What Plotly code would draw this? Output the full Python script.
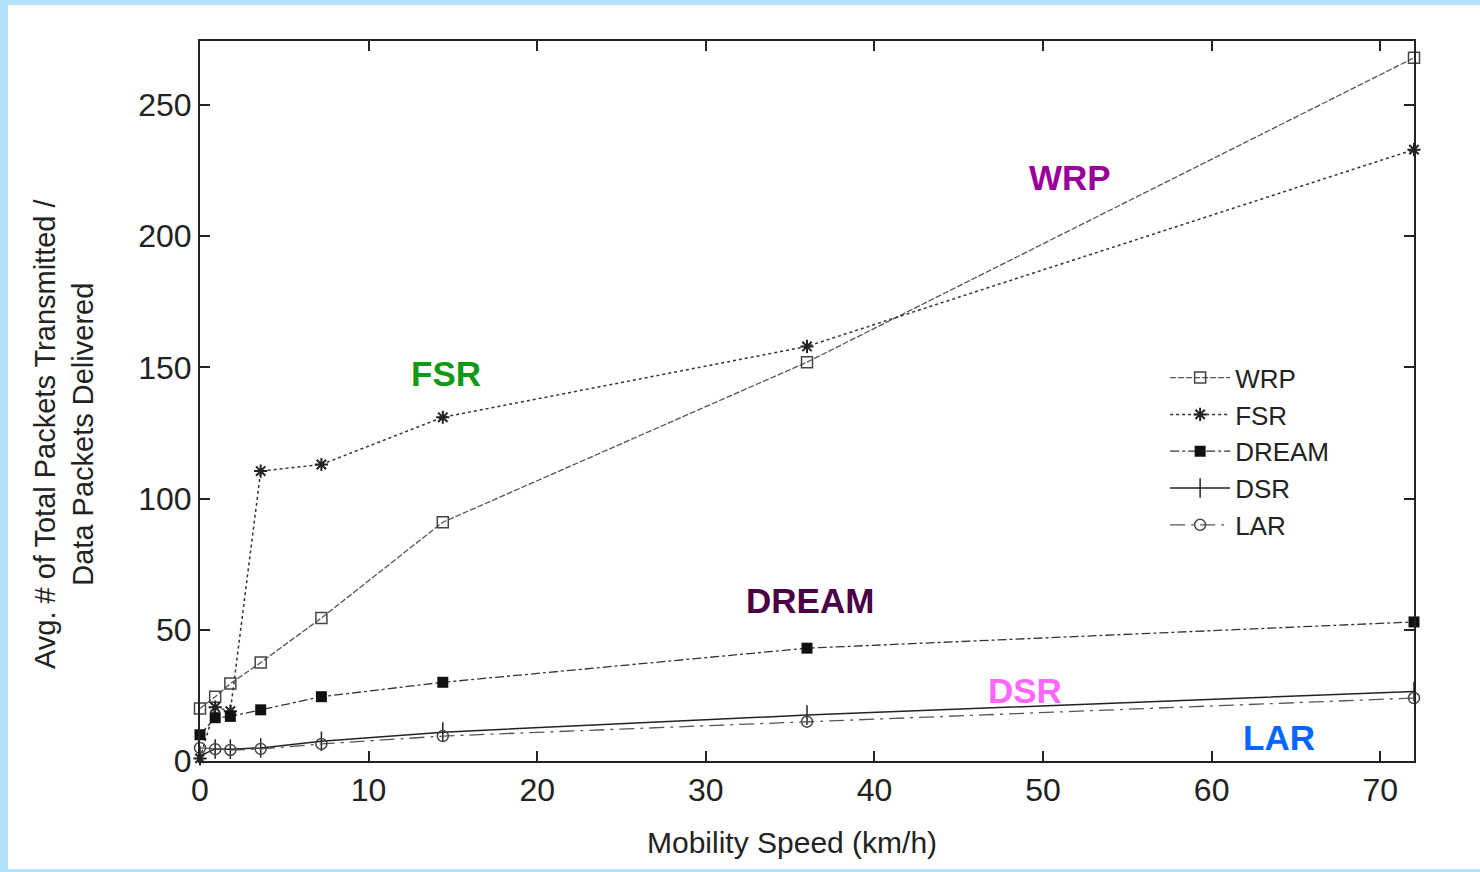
import plotly.graph_objects as go

speed = [0, 0.9, 1.8, 3.6, 7.2, 14.4, 36, 72]
wrp = [20, 24.5, 29.5, 37.5, 54.5, 91, 152, 268]
fsr = [1, 20.5, 19, 110.5, 113, 131, 158, 233]
dream = [10, 16.5, 17, 19.5, 24.5, 30, 43, 53]
dsr = [2, 4.6, 4.5, 5, 7.5, 11, 17.5, 26.5]
lar = [5, 4.5, 4.2, 4.6, 6.5, 9.5, 15, 24]

x_ticks = [0, 10, 20, 30, 40, 50, 60, 70]
y_ticks = [0, 50, 100, 150, 200, 250]

labels = ["WRP", "FSR", "DREAM", "DSR", "LAR"]
label_x = [51.6, 14.6, 36.2, 48.9, 64.0]
label_y = [222.5, 147.5, 61, 27, 9]
label_colors = ["#990099", "#119911", "#4a0046", "#ff66ff", "#0066ff"]

FONT = "Liberation Sans, Arial, sans-serif"

fig = go.Figure()
series = [
    ("WRP", wrp, dict(color="#555555", width=1.3, dash="6px,2px"), dict(symbol="square-open", size=11, color="#444444", line=dict(width=1.5))),
    ("FSR", fsr, dict(color="#333333", width=1.5, dash="dot"), dict(symbol="asterisk-open", size=11, color="#222222", line=dict(width=2))),
    ("DREAM", dream, dict(color="#333333", width=1.3, dash="dashdot"), dict(symbol="square", size=11, color="#111111")),
    ("DSR", dsr, dict(color="#222222", width=1.5, dash="solid"), dict(symbol="line-ns-open", size=14, color="#222222", line=dict(width=1.5))),
    ("LAR", lar, dict(color="#555555", width=1.3, dash="longdashdot"), dict(symbol="circle-open", size=11, color="#444444", line=dict(width=1.5))),
]
for name, ys, ln, mk in series:
    fig.add_trace(go.Scatter(x=speed, y=ys, name=name, mode="lines+markers",
                             line=ln, marker=mk, cliponaxis=False))

for t, xx, yy, c in zip(labels, label_x, label_y, label_colors):
    fig.add_annotation(x=xx, y=yy, xref="x", yref="y", text="<b>%s</b>" % t,
                       showarrow=False, font=dict(family=FONT, size=35, color=c))

# y axis title as annotation (two lines)
fig.add_annotation(x=-0.142, y=0.455, xref="paper", yref="paper",
                   text="Avg. # of Total Packets Transmitted /<br>Data Packets Delivered",
                   textangle=-90, showarrow=False,
                   font=dict(family=FONT, size=29, color="#222222"))

# x axis title as annotation
fig.add_annotation(x=0.4877, y=-0.1125, xref="paper", yref="paper",
                   text="Mobility Speed (km/h)", showarrow=False,
                   xanchor="center", yanchor="middle",
                   font=dict(family=FONT, size=30, color="#222222"))

# light blue frame around the picture
fig.add_shape(type="rect", xref="paper", yref="paper",
              x0=(8 - 200) / 1214, x1=(1480 - 200) / 1214,
              y0=(761 - 869) / 720, y1=(761 - 5) / 720,
              fillcolor="white", line=dict(width=0), layer="below")

axis_common = dict(showline=True, linecolor="#222222", linewidth=2, mirror="ticks",
                   ticks="inside", ticklen=10, tickwidth=2, tickcolor="#222222",
                   showgrid=False, zeroline=False,
                   tickfont=dict(family=FONT, size=32, color="#222222"))

fig.update_layout(
    width=1480, height=872,
    paper_bgcolor="#b3e1fb", plot_bgcolor="white",
    margin=dict(l=200, r=66, t=41, b=111),
    xaxis=dict(range=[0, 72], tickvals=x_ticks, **axis_common),
    yaxis=dict(range=[0, 274.4], tickvals=y_ticks, **axis_common),
    legend=dict(x=0.795, y=0.565, xanchor="left", yanchor="top",
                bgcolor="rgba(0,0,0,0)", font=dict(family=FONT, size=26, color="#222222"),
                itemwidth=60, tracegroupgap=0),
    showlegend=True,
)

fig.write_html("out.html", config={"displayModeBar": False},
               post_script="document.body.style.margin='0';document.body.style.overflow='hidden';")
